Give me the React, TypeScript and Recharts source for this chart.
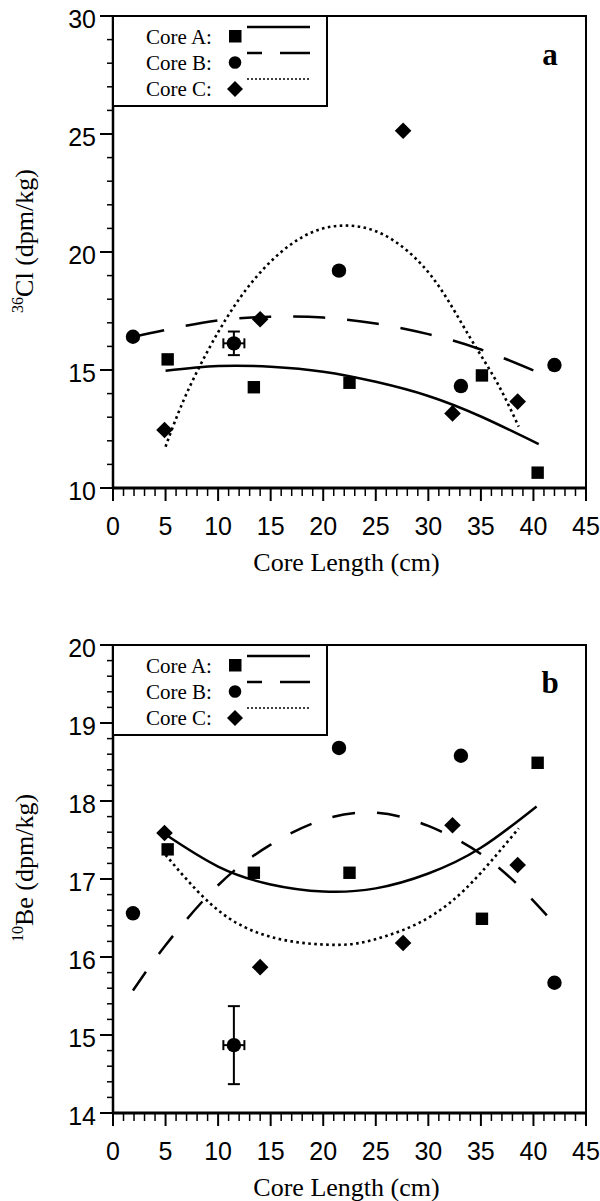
import React from 'react';
import { ComposedChart, Line, Scatter, XAxis, YAxis, ErrorBar, ReferenceArea, Label } from 'recharts';

// sample positions along each core (cm)
const depthA = [5.2, 13.4, 22.5, 35.1, 40.4];
const depthB = [1.9, 11.5, 21.5, 33.1, 42.0];
const depthC = [4.9, 14.0, 27.6, 32.3, 38.5];

// 36Cl activity (dpm/kg)
const cl36A = [15.45, 14.27, 14.46, 14.77, 10.65];
const cl36B = [16.41, 16.13, 19.21, 14.32, 15.21];
const cl36C = [12.46, 17.15, 25.14, 13.16, 13.66];

// 10Be activity (dpm/kg)
const be10A = [17.38, 17.08, 17.08, 16.49, 18.49];
const be10B = [16.56, 14.87, 18.68, 18.58, 15.67];
const be10C = [17.59, 15.87, 16.18, 17.69, 17.18];

// uncertainty only reported for the 11.5 cm sample of core B
const errDepthB = [0, 1, 0, 0, 0];
const errCl36B = [0, 0.5, 0, 0, 0];
const errBe10B = [0, 0.5, 0, 0, 0];

// fitted trends, 36Cl
const fitClAx = [5, 10, 15, 20, 25, 30, 35, 40.5];
const fitClAy = [14.97, 15.17, 15.14, 14.93, 14.5, 13.9, 13.03, 11.86];
const fitClBx = [1.9, 5, 10, 15, 20, 25, 30, 35, 41.4];
const fitClBy = [16.4, 16.7, 17.1, 17.26, 17.22, 16.97, 16.52, 15.87, 14.72];
const fitClCx = [5, 7, 10, 13, 16, 19, 22, 25, 28, 31, 34, 36.5, 38.6];
const fitClCy = [11.75, 14.0, 16.6, 18.6, 20.0, 20.85, 21.12, 20.88, 20.05, 18.55, 16.35, 14.5, 12.6];

// fitted trends, 10Be
const fitBeAx = [5, 10, 15, 20, 25, 30, 35, 40.3];
const fitBeAy = [17.57, 17.16, 16.93, 16.84, 16.88, 17.07, 17.4, 17.93];
const fitBeBx = [1.9, 5, 10, 15, 20, 25, 30, 35, 39, 42.1];
const fitBeBy = [15.57, 16.15, 16.92, 17.44, 17.76, 17.85, 17.68, 17.32, 16.86, 16.41];
const fitBeCx = [5, 8, 11, 14, 17, 20, 23, 26, 29, 32, 35, 38.6];
const fitBeCy = [17.31, 16.85, 16.5, 16.3, 16.2, 16.16, 16.17, 16.27, 16.43, 16.69, 17.08, 17.65];

const xTicks = Array.from({ length: 46 }, (_, i) => i);
const yTicksCl = [10, 11, 12, 13, 14, 15, 16, 17, 18, 19, 20, 21, 22, 23, 24, 25, 26, 27, 28, 29, 30];
const yTicksBe = [
  14, 14.2, 14.4, 14.6, 14.8, 15, 15.2, 15.4, 15.6, 15.8, 16, 16.2, 16.4, 16.6, 16.8,
  17, 17.2, 17.4, 17.6, 17.8, 18, 18.2, 18.4, 18.6, 18.8, 19, 19.2, 19.4, 19.6, 19.8, 20,
];
const legendRows = ['Core A:', 'Core B:', 'Core C:'];

const serif = '"Liberation Serif", "Times New Roman", serif';
const sans = '"Liberation Sans", Arial, sans-serif';

const pts = (xs: number[], ys: number[], ex?: number[], ey?: number[]) =>
  xs.map((x, i) => ({ x, y: ys[i], ex: ex ? ex[i] : 0, ey: ey ? ey[i] : 0 }));

const squareShape = (p: any) => <rect x={p.cx - 6.2} y={p.cy - 6.2} width={12.4} height={12.4} fill="#000" />;
const circleShape = (p: any) => <circle cx={p.cx} cy={p.cy} r={7.2} fill="#000" />;
const diamondShape = (p: any) => (
  <polygon
    points={`${p.cx},${p.cy - 8.3} ${p.cx + 8.3},${p.cy} ${p.cx},${p.cy + 8.3} ${p.cx - 8.3},${p.cy}`}
    fill="#000"
  />
);

const XTick = (props: any) => {
  const { x, y, payload } = props;
  const major = payload.value % 5 === 0;
  return (
    <g>
      <line x1={x} y1={y} x2={x} y2={y + (major ? 13 : 8)} stroke="#000" strokeWidth={major ? 2 : 1.5} />
      {major && (
        <text x={x} y={y + 47} textAnchor="middle" fontFamily={sans} fontSize={25} fill="#000">
          {payload.value}
        </text>
      )}
    </g>
  );
};

const makeYTick = (majorStep: number) => (props: any) => {
  const { x, y, payload } = props;
  const v = payload.value;
  const major = Math.abs(v / majorStep - Math.round(v / majorStep)) < 1e-6;
  return (
    <g>
      <line x1={x - (major ? 13 : 6)} y1={y} x2={x} y2={y} stroke="#000" strokeWidth={major ? 2 : 1.5} />
      {major && (
        <text x={x - 17} y={y + 12} textAnchor="end" fontFamily={sans} fontSize={25} fill="#000">
          {Math.round(v)}
        </text>
      )}
    </g>
  );
};

const xTitle = (props: any) => {
  const vb = props.viewBox;
  return (
    <text x={vb.x + vb.width / 2 - 3} y={vb.y + 83} textAnchor="middle" fontFamily={serif} fontSize={26} fill="#000">
      Core Length (cm)
    </text>
  );
};

const yTitle = (sup: string, rest: string) => (props: any) => {
  const vb = props.viewBox;
  const cy = vb.y + vb.height / 2 - 11;
  return (
    <text transform={`translate(33, ${cy}) rotate(-90)`} textAnchor="middle" fontFamily={serif} fontSize={26} fill="#000">
      <tspan fontSize={16} dy={-10}>{sup}</tspan>
      <tspan dy={10}>{rest}</tspan>
    </text>
  );
};

const LegendBox = ({ top }: { top: number }) => {
  const markers = [
    <rect key="a" x={116} y={14} width={12.5} height={12.5} fill="#000" />,
    <circle key="b" cx={122} cy={46.5} r={6.3} fill="#000" />,
    <polygon key="c" points="122,65 130,73 122,81 114,73" fill="#000" />,
  ];
  return (
    <svg style={{ position: 'absolute', left: 113, top, overflow: 'visible' }} width={214} height={90}>
      <rect x={0} y={0} width={214} height={90} fill="#fff" stroke="#000" strokeWidth={2} />
      {legendRows.map((r, i) => (
        <text key={r} x={33} y={28 + i * 26} fontFamily={serif} fontSize={21} fill="#000">
          {r}
        </text>
      ))}
      {markers}
      <line x1={134} y1={11} x2={197} y2={11} stroke="#000" strokeWidth={2.5} />
      <line x1={134} y1={37} x2={197} y2={37} stroke="#000" strokeWidth={2.5} strokeDasharray="30 18" strokeDashoffset={15} />
      <line x1={134} y1={63} x2={197} y2={63} stroke="#000" strokeWidth={1.5} strokeDasharray="2 2" />
    </svg>
  );
};

type PanelProps = {
  top: number;
  height: number;
  plotTop: number;
  plotBottom: number;
  yDomain: [number, number];
  yTicks: number[];
  majorStep: number;
  sup: string;
  rest: string;
  letter: string;
  letterY: number;
  a: any[];
  b: any[];
  c: any[];
  fa: any[];
  fb: any[];
  fc: any[];
  dash: string;
};

const Panel = (p: PanelProps) => (
  <div style={{ position: 'absolute', left: 0, top: p.top, width: 600, height: p.height }}>
    <ComposedChart width={600} height={p.height} margin={{ top: p.plotTop, right: 14, bottom: 0, left: 0 }}>
      <XAxis
        dataKey="x"
        type="number"
        domain={[0, 45]}
        ticks={xTicks}
        interval={0}
        tick={XTick}
        tickSize={0}
        tickMargin={0}
        tickLine={false}
        height={p.height - p.plotBottom}
        axisLine={{ stroke: '#000', strokeWidth: 3 }}
      >
        <Label content={xTitle} />
      </XAxis>
      <YAxis
        dataKey="y"
        type="number"
        domain={p.yDomain}
        ticks={p.yTicks}
        interval={0}
        tick={makeYTick(p.majorStep)}
        tickSize={0}
        tickMargin={0}
        tickLine={false}
        width={113}
        axisLine={{ stroke: '#000', strokeWidth: 2.5 }}
      >
        <Label content={yTitle(p.sup, p.rest)} />
      </YAxis>
      <ReferenceArea x1={0} x2={45} y1={p.yDomain[0]} y2={p.yDomain[1]} fill="none" stroke="#000" strokeWidth={2} />
      <Line data={p.fa} dataKey="y" type="natural" dot={false} activeDot={false} stroke="#000" strokeWidth={2.5} isAnimationActive={false} />
      <Line data={p.fb} dataKey="y" type="natural" dot={false} activeDot={false} stroke="#000" strokeWidth={2.5} strokeDasharray={p.dash} isAnimationActive={false} />
      <Line data={p.fc} dataKey="y" type="natural" dot={false} activeDot={false} stroke="#000" strokeWidth={2.6} strokeDasharray="2.6 3.4" isAnimationActive={false} />
      <Scatter data={p.a} shape={squareShape} isAnimationActive={false} />
      <Scatter data={p.b} shape={circleShape} isAnimationActive={false}>
        <ErrorBar dataKey="ey" direction="y" width={6} stroke="#000" strokeWidth={2} />
        <ErrorBar dataKey="ex" direction="x" width={5} stroke="#000" strokeWidth={2} />
      </Scatter>
      <Scatter data={p.c} shape={diamondShape} isAnimationActive={false} />
    </ComposedChart>
    <LegendBox top={p.plotTop} />
    <svg style={{ position: 'absolute', left: 0, top: 0, pointerEvents: 'none' }} width={600} height={p.height}>
      <text x={550} y={p.letterY} textAnchor="middle" fontFamily={serif} fontWeight="bold" fontSize={31} fill="#000">
        {p.letter}
      </text>
    </svg>
  </div>
);

export default function App() {
  return (
    <div style={{ position: 'absolute', left: 0, top: 0, width: 600, height: 1201, background: '#fff' }}>
      <Panel
        top={0}
        height={600}
        plotTop={16}
        plotBottom={488}
        yDomain={[10, 30]}
        yTicks={yTicksCl}
        majorStep={5}
        sup="36"
        rest="Cl (dpm/kg)"
        letter="a"
        letterY={65}
        a={pts(depthA, cl36A)}
        b={pts(depthB, cl36B, errDepthB, errCl36B)}
        c={pts(depthC, cl36C)}
        fa={pts(fitClAx, fitClAy)}
        fb={pts(fitClBx, fitClBy)}
        fc={pts(fitClCx, fitClCy)}
        dash="32 22"
      />
      <Panel
        top={600}
        height={601}
        plotTop={45}
        plotBottom={513}
        yDomain={[14, 20]}
        yTicks={yTicksBe}
        majorStep={1}
        sup="10"
        rest="Be (dpm/kg)"
        letter="b"
        letterY={93}
        a={pts(depthA, be10A)}
        b={pts(depthB, be10B, errDepthB, errBe10B)}
        c={pts(depthC, be10C)}
        fa={pts(fitBeAx, fitBeAy)}
        fb={pts(fitBeBx, fitBeBy)}
        fc={pts(fitBeCx, fitBeCy)}
        dash="23 22"
      />
    </div>
  );
}
